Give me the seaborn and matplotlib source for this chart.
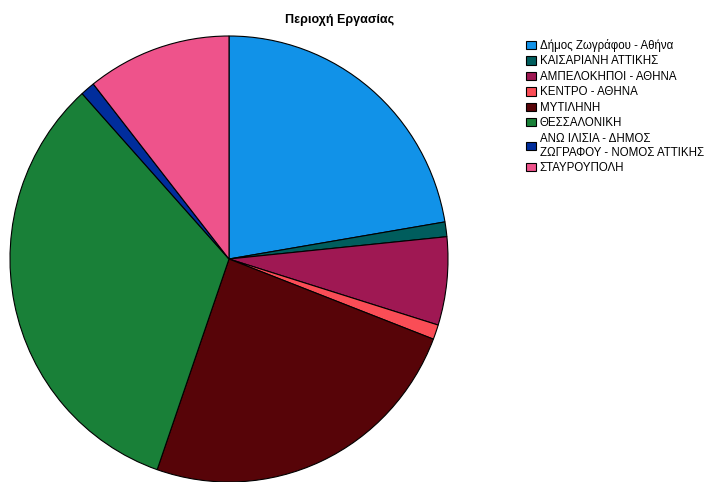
import matplotlib
matplotlib.use("Agg")
import matplotlib.pyplot as plt
import seaborn as sns

categories = [
    "Δήμος Ζωγράφου - Αθήνα",
    "ΚΑΙΣΑΡΙΑΝΗ ΑΤΤΙΚΗΣ",
    "ΑΜΠΕΛΟΚΗΠΟΙ - ΑΘΗΝΑ",
    "ΚΕΝΤΡΟ - ΑΘΗΝΑ",
    "ΜΥΤΙΛΗΝΗ",
    "ΘΕΣΣΑΛΟΝΙΚΗ",
    "ΑΝΩ ΙΛΙΣΙΑ - ΔΗΜΟΣ\nΖΩΓΡΑΦΟΥ - ΝΟΜΟΣ ΑΤΤΙΚΗΣ",
    "ΣΤΑΥΡΟΥΠΟΛΗ",
]
counts = [21, 1, 6, 1, 23, 31, 1, 10]
colors = ["#1192e8", "#005d5d", "#9f1853", "#fa4d56",
          "#570408", "#198038", "#002d9c", "#ee538b"]
title = "Περιοχή Εργασίας"

sns.set_theme(style="white")
plt.rcParams["font.family"] = ["Liberation Sans", "DejaVu Sans"]
plt.rcParams["text.color"] = "black"
palette = sns.color_palette(colors)

W, H = 719, 482
fig = plt.figure(figsize=(W / 100, H / 100), dpi=100)
ax = fig.add_axes([10 / W, (H - 482) / H, 438 / W, 446 / H])
wedges, _ = ax.pie(counts, colors=palette, startangle=90, counterclock=False,
                   radius=1.0,
                   wedgeprops=dict(edgecolor="black", linewidth=0.8))
ax.set_aspect("auto")
ax.set_xlim(-1.0, 1.0)
ax.set_ylim(-1.0, 1.0)
ax.axis("off")

fig.text(340 / W, 1 - 20 / H, title, ha="center", va="center",
         fontsize=9, fontweight="bold", color="black")

leg = fig.legend(wedges, categories, loc="upper left",
                 bbox_to_anchor=(526 / W, 1 - 39 / H), frameon=False,
                 fontsize=8.3, borderpad=0, borderaxespad=0,
                 handlelength=0.85, handleheight=0.75, handletextpad=0.35,
                 labelspacing=0.3)
for t in leg.get_texts():
    t.set_color("black")

fig.savefig("out.png", dpi=100, facecolor="white")
